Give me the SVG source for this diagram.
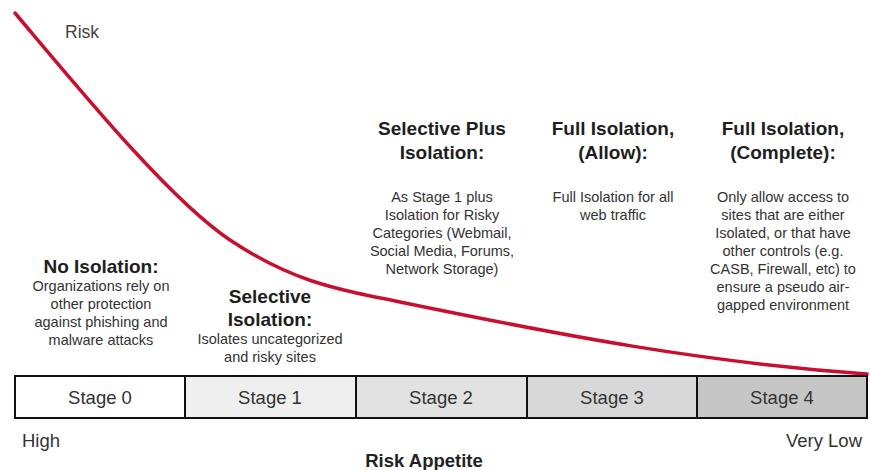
<svg xmlns="http://www.w3.org/2000/svg" width="871" height="470" viewBox="0 0 871 470">
<style>
text{font-family:"Liberation Sans",Arial,sans-serif}
.t{font-size:19px;font-weight:bold;fill:#1e1e1e;text-anchor:middle}
.b{font-size:14.5px;fill:#333;text-anchor:middle}
.s{font-size:18.5px;fill:#333;text-anchor:middle}
.cell{stroke:#111;stroke-width:2}
.ax{font-size:18.5px;fill:#333}
</style>
<rect width="871" height="470" fill="#fff"/>
<g id="connectors">
<path id="risk-curve" d="M15,13 C80,90 170,200 230,240 C290,280 330,288 400,302 C560,335 700,362 867,374" fill="none" stroke="#c8102e" stroke-width="3.5" stroke-linecap="round"/>
</g>
<text x="65" y="38" class="ax" style="font-size:17.5px;fill:#444">Risk</text>
<g id="stage0-desc">
<text x="101" y="273" class="t">No Isolation:</text>
<text class="b"><tspan x="101" y="291">Organizations rely on</tspan><tspan x="101" y="309">other protection</tspan><tspan x="101" y="327">against phishing and</tspan><tspan x="101" y="345">malware attacks</tspan></text>
</g>
<g id="stage1-desc">
<text class="t"><tspan x="270" y="303">Selective</tspan><tspan x="270" y="326">Isolation:</tspan></text>
<text class="b"><tspan x="270" y="344">Isolates uncategorized</tspan><tspan x="270" y="362">and risky sites</tspan></text>
</g>
<g id="stage2-desc">
<text class="t"><tspan x="442" y="135">Selective Plus</tspan><tspan x="442" y="159">Isolation:</tspan></text>
<text class="b"><tspan x="442" y="202">As Stage 1 plus</tspan><tspan x="442" y="220">Isolation for Risky</tspan><tspan x="442" y="238">Categories (Webmail,</tspan><tspan x="442" y="256">Social Media, Forums,</tspan><tspan x="442" y="274">Network Storage)</tspan></text>
</g>
<g id="stage3-desc">
<text class="t"><tspan x="613" y="135">Full Isolation,</tspan><tspan x="613" y="159">(Allow):</tspan></text>
<text class="b"><tspan x="613" y="202">Full Isolation for all</tspan><tspan x="613" y="220">web traffic</tspan></text>
</g>
<g id="stage4-desc">
<text class="t"><tspan x="783" y="135">Full Isolation,</tspan><tspan x="783" y="159">(Complete):</tspan></text>
<text class="b"><tspan x="783" y="202">Only allow access to</tspan><tspan x="783" y="220">sites that are either</tspan><tspan x="783" y="238">Isolated, or that have</tspan><tspan x="783" y="256">other controls (e.g.</tspan><tspan x="783" y="274">CASB, Firewall, etc) to</tspan><tspan x="783" y="292">ensure a pseudo air-</tspan><tspan x="783" y="310">gapped environment</tspan></text>
</g>
<g id="stage0"><rect class="cell" x="15" y="376" width="170" height="42" fill="#ffffff"/><text x="100" y="404" class="s">Stage 0</text></g>
<g id="stage1"><rect class="cell" x="185" y="376" width="171" height="42" fill="#efefef"/><text x="270" y="404" class="s">Stage 1</text></g>
<g id="stage2"><rect class="cell" x="356" y="376" width="171" height="42" fill="#e2e2e2"/><text x="441" y="404" class="s">Stage 2</text></g>
<g id="stage3"><rect class="cell" x="527" y="376" width="170" height="42" fill="#d8d8d8"/><text x="612" y="404" class="s">Stage 3</text></g>
<g id="stage4"><rect class="cell" x="697" y="376" width="170" height="42" fill="#c6c6c6"/><text x="782" y="404" class="s">Stage 4</text></g>
<text x="22" y="447" class="ax">High</text>
<text x="862" y="447" class="ax" text-anchor="end">Very Low</text>
<text x="424" y="467" style="font-size:18.5px;font-weight:bold;fill:#222;text-anchor:middle">Risk Appetite</text>
</svg>
